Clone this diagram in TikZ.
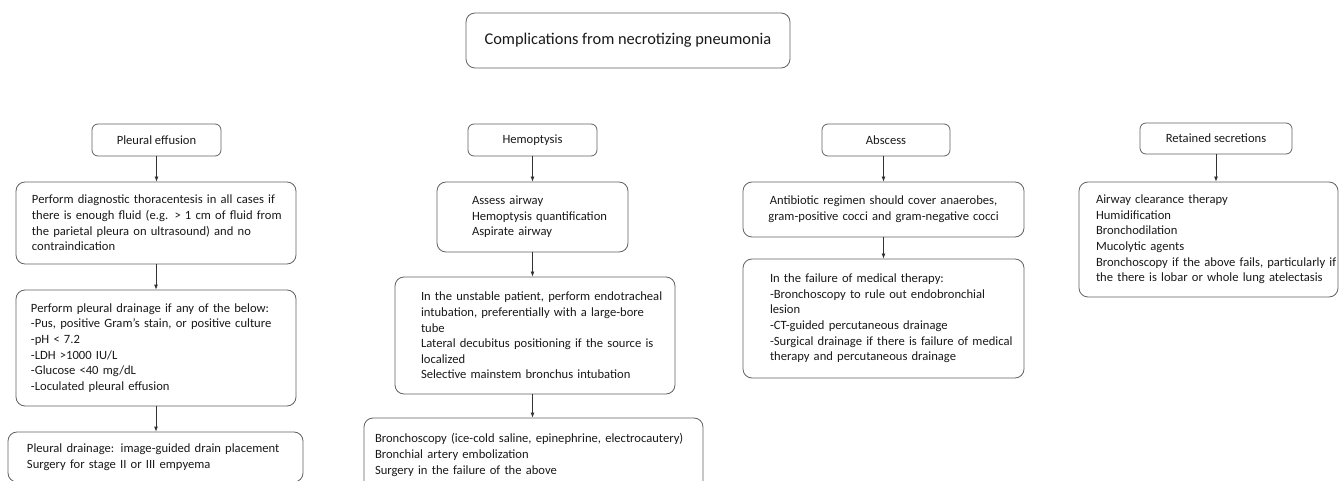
\documentclass[tikz,border=0pt]{standalone}
\usepackage{fontspec}
\setmainfont{Carlito}
\usetikzlibrary{arrows.meta}
\usetikzlibrary{positioning}
\tikzset{box/.style = {draw=black!62, line width=0.8, rounded corners=9,
                       align=left, inner sep=0, text=black!90,
                       font=\fontsize{12.6}{15.6}\selectfont}}
\tikzset{indent/.style = {execute at begin node={\leftskip=#1pt\relax}}}
\tikzset{head/.style = {box, rounded corners=6, minimum width=129,
                        minimum height=32, align=center}}
\tikzset{link/.style = {draw=black!80, line width=0.8, -{Latex[length=5, width=4]}}}

\begin{document}
\begin{tikzpicture}[x=1pt, y=-1pt]
      \useasboundingbox (0, 0) rectangle (1339, 481);
      \clip (0, 0) rectangle (1339, 481);
      \node [box, minimum width=324, minimum height=55,
             font=\fontsize{16.4}{20}\selectfont] (top) at (628, 40.5)
            {Complications from necrotizing pneumonia};
      \node [head] (pe) at (156.5, 140) {Pleural effusion};
      \node [box, text width=280, indent=16, minimum height=82] (pe1) at (156, 223)
            {Perform diagnostic thoracentesis in all cases if\\there is enough fluid (e.g. > 1 cm of fluid from\\the parietal pleura on ultrasound) and no\\contraindication};
      \node [box, text width=280, indent=15, minimum height=116] (pe2) at (156, 348)
            {Perform pleural drainage if any of the below:\\-Pus, positive Gram’s stain, or positive culture\\-pH < 7.2\\-LDH >1000 IU/L\\-Glucose <40 mg/dL\\-Loculated pleural effusion};
      \node [box, text width=295, indent=19, minimum height=50] (pe3) at (155.5, 457)
            {Pleural drainage: image-guided drain placement\\Surgery for stage II or III empyema};
      \node [head] (hm) at (532.5, 140) {Hemoptysis};
      \node [box, text width=191, indent=35, minimum height=70] (hm1) at (532.5, 217)
            {Assess airway\\Hemoptysis quantification\\Aspirate airway};
      \node [box, text width=280, indent=26, minimum height=117] (hm2) at (535, 335.5)
            {In the unstable patient, perform endotracheal\\intubation, preferentially with a large-bore\\tube\\Lateral decubitus positioning if the source is\\localized\\Selective mainstem bronchus intubation};
      \node [box, text width=339, indent=11, minimum height=74] (hm3) at (533.5, 455)
            {Bronchoscopy (ice-cold saline, epinephrine, electrocautery)\\Bronchial artery embolization\\Surgery in the failure of the above};
      \node [head, minimum width=128] (ab) at (886, 140) {Abscess};
      \node [box, text width=281, minimum height=55, align=center] (ab1) at (883.5, 209.5)
            {Antibiotic regimen should cover anaerobes,\\gram-positive cocci and gram-negative cocci};
      \node [box, text width=281, indent=27, minimum height=119] (ab2) at (883.5, 318.5)
            {In the failure of medical therapy:\\-Bronchoscopy to rule out endobronchial\\lesion\\-CT-guided percutaneous drainage\\-Surgical drainage if there is failure of medical\\therapy and percutaneous drainage};
      \node [head, minimum width=152, minimum height=31] (rs) at (1216, 138.5) {Retained secretions};
      \node [box, text width=259, indent=17, minimum height=115] (rs1) at (1208.5, 239.5)
            {Airway clearance therapy\\Humidification\\Bronchodilation\\Mucolytic agents\\Bronchoscopy if the above fails, particularly if\\the there is lobar or whole lung atelectasis};
      \draw [link] (pe.south) -- (pe.south |- pe1.north);
      \draw [link] (pe1.south) -- (pe1.south |- pe2.north);
      \draw [link] (pe2.south) -- (pe2.south |- pe3.north);
      \draw [link] (hm.south) -- (hm.south |- hm1.north);
      \draw [link] (hm1.south) -- (hm1.south |- hm2.north);
      \draw [link] (hm1.south |- hm2.south) -- (hm1.south |- hm3.north);
      \draw [link] (ab.south -| ab1.north) -- (ab1.north);
      \draw [link] (ab1.south) -- (ab1.south |- ab2.north);
      \draw [link] (rs.south) -- (rs.south |- rs1.north);
    \end{tikzpicture}
\end{document}
